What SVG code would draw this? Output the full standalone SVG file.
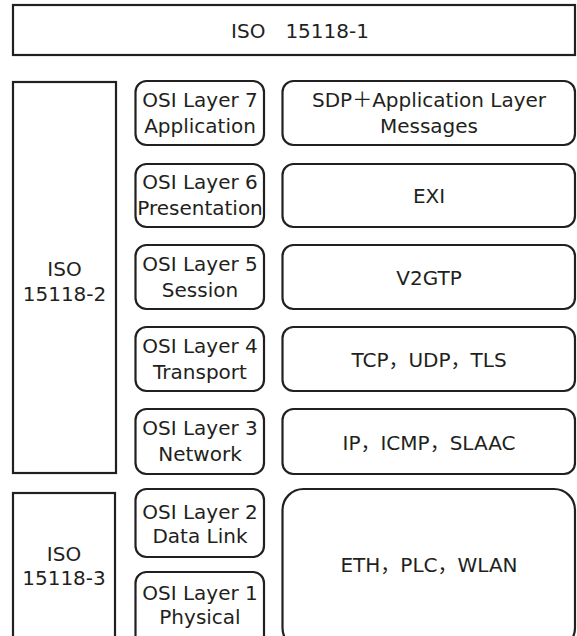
<svg xmlns="http://www.w3.org/2000/svg" width="577" height="636" viewBox="0 0 577 636">
<style>
.b{fill:#fff;stroke:#231f20;stroke-width:2.2}
text{font-family:"DejaVu Sans","Noto Sans CJK JP",sans-serif;font-size:20px;fill:#231f20;text-anchor:middle}
</style>
<rect width="577" height="636" fill="#fff"/>
<g id="iso1"><rect class="b" x="13" y="5" width="562" height="50"/><text x="300" y="38">ISO　15118-1</text></g>
<g id="iso2"><rect class="b" x="13" y="82" width="103" height="391"/><text x="64.5" y="276">ISO</text><text x="64.5" y="301">15118-2</text></g>
<g id="iso3"><rect class="b" x="13" y="493" width="102" height="160"/><text x="64" y="561">ISO</text><text x="64" y="585">15118-3</text></g>
<g id="l7"><rect class="b" x="135.5" y="81" width="128.5" height="64" rx="11"/><text x="200" y="106.5">OSI Layer 7</text><text x="200" y="132.5">Application</text></g>
<g id="l6"><rect class="b" x="135.5" y="164" width="128.5" height="63" rx="11"/><text x="200" y="189">OSI Layer 6</text><text x="200" y="215">Presentation</text></g>
<g id="l5"><rect class="b" x="135.5" y="245" width="128.5" height="64" rx="11"/><text x="200" y="270.5">OSI Layer 5</text><text x="200" y="296.5">Session</text></g>
<g id="l4"><rect class="b" x="135.5" y="327" width="128.5" height="64" rx="11"/><text x="200" y="352.5">OSI Layer 4</text><text x="200" y="378.5">Transport</text></g>
<g id="l3"><rect class="b" x="135.5" y="409" width="128.5" height="65" rx="11"/><text x="200" y="435">OSI Layer 3</text><text x="200" y="461">Network</text></g>
<g id="l2"><rect class="b" x="135.5" y="489" width="128.5" height="68" rx="11"/><text x="200" y="519">OSI Layer 2</text><text x="200" y="543">Data Link</text></g>
<g id="l1"><rect class="b" x="135.5" y="572" width="128.5" height="80" rx="11"/><text x="200" y="600">OSI Layer 1</text><text x="200" y="624">Physical</text></g>
<g id="app"><rect class="b" x="282.5" y="81" width="292.5" height="64" rx="11"/><text x="429" y="107">SDP＋Application Layer</text><text x="429" y="133">Messages</text></g>
<g id="exi"><rect class="b" x="282.5" y="164" width="292.5" height="63" rx="11"/><text x="429" y="203">EXI</text></g>
<g id="v2gtp"><rect class="b" x="282.5" y="245" width="292.5" height="64" rx="11"/><text x="429" y="284.5">V2GTP</text></g>
<g id="tcp"><rect class="b" x="282.5" y="327" width="292.5" height="64" rx="11"/><text x="429" y="366.5">TCP，UDP，TLS</text></g>
<g id="ip"><rect class="b" x="282.5" y="409" width="292.5" height="65" rx="11"/><text x="429" y="450">IP，ICMP，SLAAC</text></g>
<g id="eth"><rect class="b" x="282.5" y="489" width="292.5" height="160" rx="21"/><text x="429" y="572">ETH，PLC，WLAN</text></g>
<g id="connectors"/>
</svg>
